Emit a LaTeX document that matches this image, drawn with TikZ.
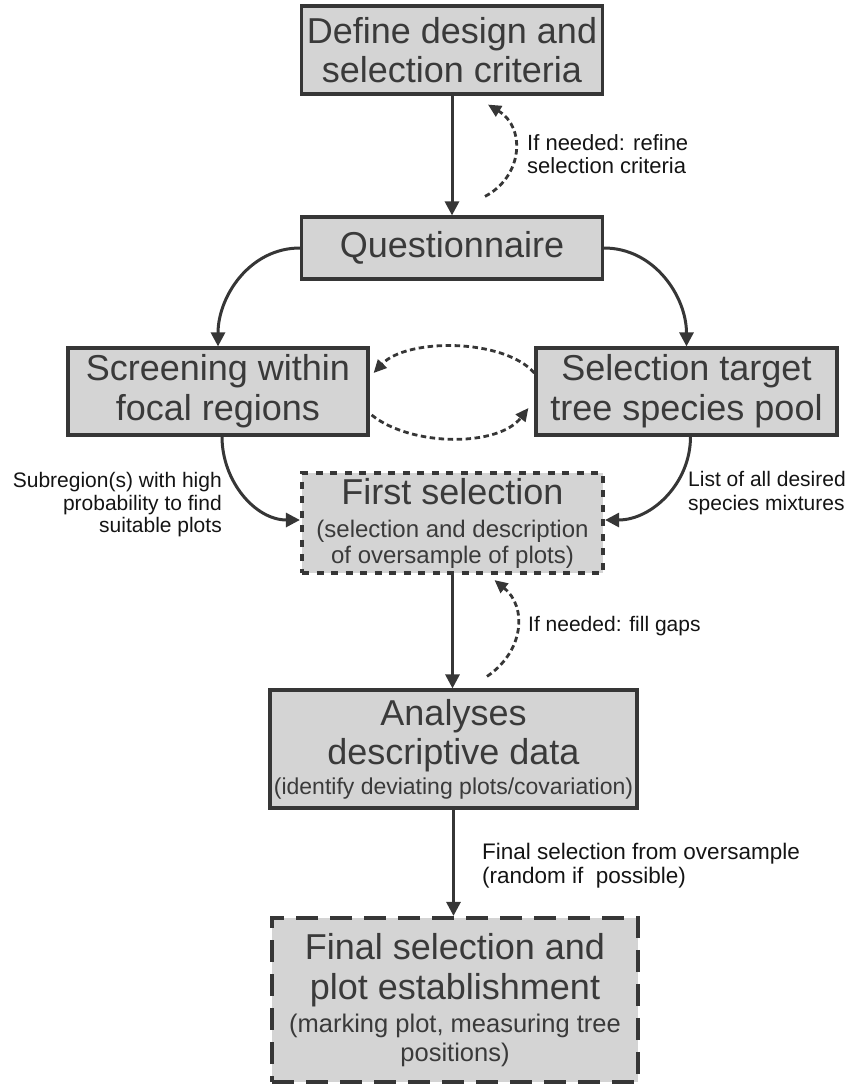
\documentclass[tikz,border=0pt]{standalone}
\usepackage{fontspec}
\setmainfont{Liberation Sans}
\usetikzlibrary{arrows.meta}
\definecolor{boxfill}{HTML}{D4D4D4}
\definecolor{boxline}{HTML}{363636}
\definecolor{boxtext}{HTML}{3A3A3A}
\definecolor{labeltext}{HTML}{141414}
\begin{document}
\begin{tikzpicture}[x=1pt,y=-1pt,
  box/.style={draw=boxline, fill=boxfill, line width=3.2pt, inner sep=0pt, align=center, text=boxtext},
  big/.style={font=\fontsize{36}{39}\selectfont},
  firstbox/.style={box, line width=4.2pt, dash pattern=on 7pt off 7.5pt},
  finalbox/.style={box, line width=4.2pt, dash pattern=on 22pt off 12pt},
  conn/.style={draw=boxline, line width=3pt, -{Triangle[length=14pt,width=14pt]}},
  dconn/.style={draw=boxline, line width=2.8pt, dash pattern=on 5.5pt off 3.5pt, -{Triangle[length=13pt,width=12pt]}},
  lab/.style={inner sep=0pt, text=labeltext, font=\fontsize{21}{23}\selectfont},
]
\useasboundingbox (0,0) rectangle (849,1085);

% boxes
\node[box,big,minimum width=301pt,minimum height=88pt] (def) at (452,50) {Define design and\\selection criteria};
\node[box,big,minimum width=301pt,minimum height=62pt] (q) at (452,248) {Questionnaire};
\node[box,font=\fontsize{36}{40}\selectfont,minimum width=300pt,minimum height=87pt] (scr) at (218,391.5) {Screening within\\focal regions};
\node[box,font=\fontsize{36}{40}\selectfont,minimum width=301pt,minimum height=87pt] (sel) at (686.5,391.5) {Selection target\\tree species pool};
\node[firstbox,font=\fontsize{24}{25}\selectfont,minimum width=301pt,minimum height=100pt] (first) at (452.5,523)
  {{\fontsize{36}{39}\selectfont First selection}\\[8pt](selection and description\\[1pt]of oversample of plots)};
\node[box,big,minimum width=367pt,minimum height=118pt] (ana) at (453.5,749)
  {Analyses\\descriptive data\\[-9pt]{\fontsize{23}{25}\selectfont(identify deviating plots/covariation)}};
\node[finalbox,font=\fontsize{36}{40}\selectfont,minimum width=366pt,minimum height=164pt] (fin) at (455,1000)
  {Final selection and\\plot establishment\\[-7pt]{\fontsize{25.5}{28}\selectfont(marking plot, measuring tree}\\[-11pt]{\fontsize{25.5}{28}\selectfont positions)}};

% solid connectors
\draw[conn] (def.south) -- (def.south |- q.north);
\draw[conn] (q.west) to[out=180,in=90] (scr.north);
\draw[conn] (q.east) to[out=0,in=90] (sel.north);
\draw[conn] ([xshift=4pt]scr.south) to[out=-90,in=180] ([yshift=3pt]first.west);
\draw[conn] ([xshift=4pt]sel.south) to[out=-90,in=0] ([yshift=3pt]first.east);
\draw[conn] (first.south) -- (first.south |- ana.north);
\draw[conn] (ana.south) -- (ana.south |- fin.north);

% dashed feedback connectors
\coordinate (fb1s) at ([xshift=33pt,yshift=19pt]q.north);
\coordinate (fb1e) at ([xshift=36pt,yshift=-9pt]def.south);
\draw[dconn] (fb1s) .. controls +(38,-20) and +(38,23) .. (fb1e);

\coordinate (up1s) at ([yshift=18.5pt]sel.west);
\coordinate (up1e) at ([xshift=4pt,yshift=18.5pt]scr.east);
\draw[dconn] (up1s) .. controls +(-31,-35) and +(33,-35) .. (up1e);

\coordinate (lo1s) at ([xshift=2pt,yshift=-23.5pt]scr.east);
\coordinate (lo1e) at ([xshift=-6pt,yshift=-16.5pt]sel.west);
\draw[dconn] (lo1s) .. controls +(40,32) and +(-30,39) .. (lo1e);

\coordinate (fb2s) at ([xshift=33.5pt,yshift=12pt]ana.north);
\coordinate (fb2e) at ([xshift=42pt,yshift=-5pt]first.south);
\draw[dconn] (fb2s) .. controls +(37,-25) and +(33,27) .. (fb2e);

% labels
\node[lab,anchor=north west,align=left,font=\fontsize{22}{23}\selectfont] (l1) at (527,134) {If needed: refine\\selection criteria};
\node[lab,anchor=north east,align=right,font=\fontsize{21}{22.5}\selectfont] (l2) at (222,472.5) {Subregion(s) with high\\probability to find\\suitable plots};
\node[lab,anchor=north west,align=left,font=\fontsize{21}{24}\selectfont] (l3) at (688,471.5) {List of all desired\\species mixtures};
\node[lab,anchor=north west,align=left] (l4) at (528,616.5) {If needed: fill gaps};
\node[lab,anchor=north west,align=left,font=\fontsize{22.5}{24}\selectfont] (l5) at (482,843) {Final selection from oversample\\(random if\ \ possible)};
\end{tikzpicture}
\end{document}
